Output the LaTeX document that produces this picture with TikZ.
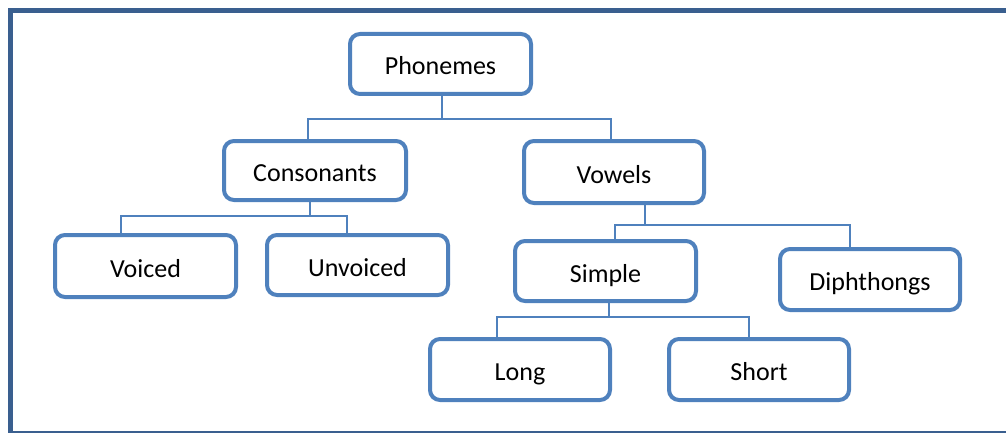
\documentclass[tikz,border=0pt]{standalone}
\usepackage{fontspec}
\setmainfont{Carlito}
\definecolor{boxblue}{HTML}{4F81BD}
\definecolor{frameblue}{HTML}{3A5F8F}
\begin{document}
\begin{tikzpicture}[x=1pt,y=-1pt,
  box/.style={draw=boxblue,line width=4pt,fill=white,rounded corners=10pt,
    inner sep=0pt,minimum width=181pt,minimum height=60pt,
    text height=22pt,text depth=0pt,font=\fontsize{26}{30}\selectfont},
  conn/.style={draw=boxblue,line width=1.6pt},
  frame/.style={draw=frameblue,line width=5pt}]
\useasboundingbox (0,0) rectangle (1006,433);
\clip (0,0) rectangle (1006,433);
\draw[frame] (10.8,10.8) rectangle (1020,433.3);

\node[box] (ph)   at (440.5,64)   {Phonemes};
\node[box,minimum width=182pt,minimum height=59pt] (cons) at (315,170.5) {Consonants};
\node[box,minimum width=180pt,minimum height=62pt] (vow)  at (614,172)   {Vowels};
\node[box,minimum height=62pt] (voi)  at (145.5,266) {Voiced};
\node[box] (unv)  at (357.5,265) {Unvoiced};
\node[box] (sim)  at (605.5,271) {Simple};
\node[box,minimum width=180pt,minimum height=61pt] (dip)  at (870,279.5) {Diphthongs};
\node[box,minimum width=180pt,minimum height=61pt] (lon)  at (520,369.5) {Long};
\node[box,minimum width=180pt,minimum height=61pt] (sho)  at (759,369.5) {Short};

\coordinate (b1) at (442,119);
\draw[conn] (ph.south -| b1) -- (b1);
\draw[conn] ([xshift=-7pt]cons.north) |- (b1) -| ([xshift=-3pt]vow.north);

\coordinate (b2) at (310,216);
\draw[conn] (cons.south -| b2) -- (b2);
\draw[conn] ([xshift=-24.5pt]voi.north) |- (b2) -| ([xshift=-10.5pt]unv.north);

\coordinate (b3) at (645,225);
\draw[conn] (vow.south -| b3) -- (b3);
\draw[conn] ([xshift=9.5pt]sim.north) |- (b3) -| ([xshift=-20pt]dip.north);

\coordinate (b4) at (609,317);
\draw[conn] (sim.south -| b4) -- (b4);
\draw[conn] ([xshift=-23pt]lon.north) |- (b4) -| ([xshift=-10pt]sho.north);
\end{tikzpicture}
\end{document}
